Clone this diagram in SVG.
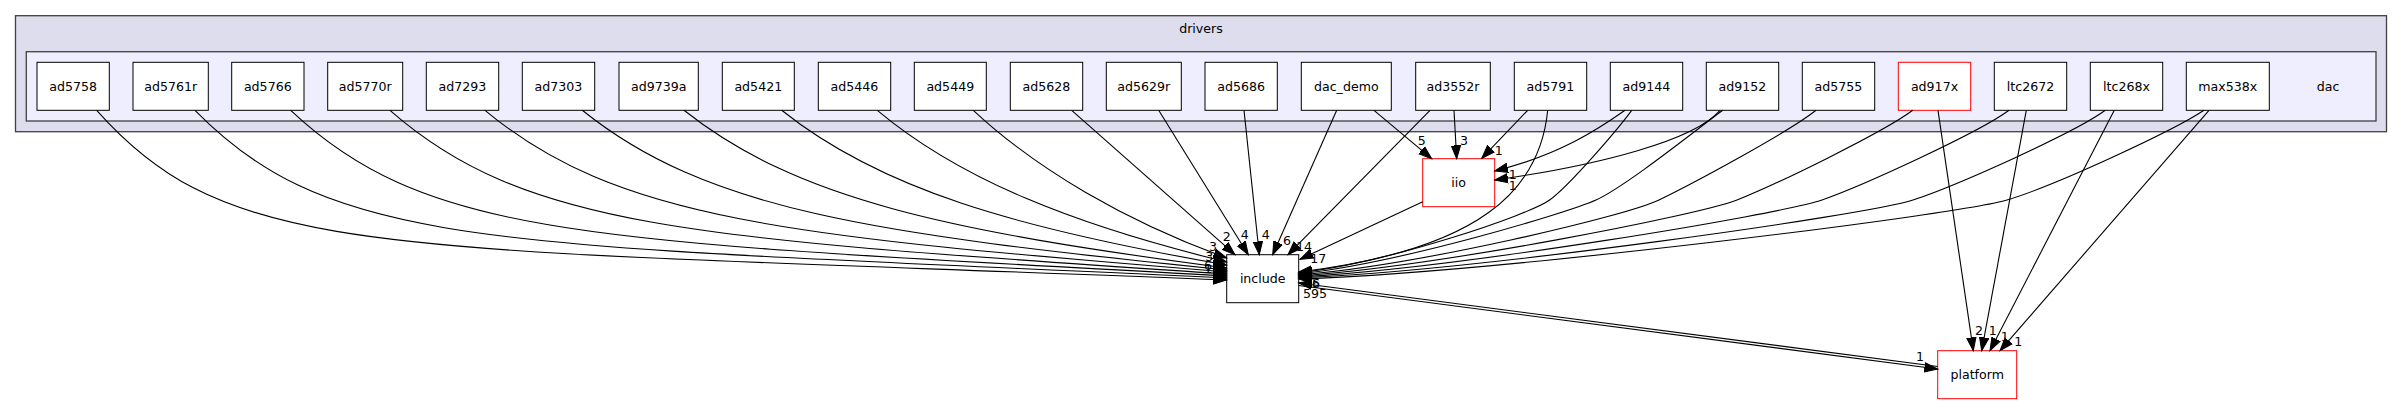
<svg xmlns="http://www.w3.org/2000/svg" width="2403" height="404" viewBox="0 0 2403 404">
<style>
text{font-family:"DejaVu Sans","Liberation Sans",sans-serif;font-size:12.6px;fill:#000;text-anchor:middle}
.outer{fill:#ddddee;stroke:#404040;stroke-width:1.3}
.inner{fill:#eeeeff;stroke:#404040;stroke-width:1.3}
.node rect{fill:#fff;stroke:#000;stroke-width:1}
.node.red rect{stroke:#ff0000}
.edges path{fill:none;stroke:#000;stroke-width:1.1;marker-end:url(#arr)}
</style>
<defs>
<marker id="arr" markerUnits="userSpaceOnUse" markerWidth="16" markerHeight="12" refX="13.3" refY="5" orient="auto" viewBox="0 0 16 10">
<path d="M0,0.3 L13.3,5 L0,9.7 Z" fill="#000" stroke="#000" stroke-width="1"/>
</marker>
</defs>
<rect width="2403" height="404" fill="#fff"/>
<g id="cluster-drivers">
<rect class="outer" x="15.5" y="15.7" width="2371" height="116"/>
<text x="1201" y="32.7">drivers</text>
</g>
<g id="cluster-dac">
<rect class="inner" x="26.3" y="51.7" width="2349.7" height="69.3"/>
<text x="2328" y="91">dac</text>
</g>
<g id="n-ad5758" class="node"><rect x="37" y="62.3" width="72.3" height="48"/><text x="73.2" y="91">ad5758</text></g>
<g id="n-ad5761r" class="node"><rect x="133" y="62.3" width="75.3" height="48"/><text x="170.7" y="91">ad5761r</text></g>
<g id="n-ad5766" class="node"><rect x="231.7" y="62.3" width="72.3" height="48"/><text x="267.8" y="91">ad5766</text></g>
<g id="n-ad5770r" class="node"><rect x="327.7" y="62.3" width="75" height="48"/><text x="365.2" y="91">ad5770r</text></g>
<g id="n-ad7293" class="node"><rect x="426.3" y="62.3" width="72.4" height="48"/><text x="462.5" y="91">ad7293</text></g>
<g id="n-ad7303" class="node"><rect x="522.3" y="62.3" width="72.4" height="48"/><text x="558.5" y="91">ad7303</text></g>
<g id="n-ad9739a" class="node"><rect x="619" y="62.3" width="79.3" height="48"/><text x="658.7" y="91">ad9739a</text></g>
<g id="n-ad5421" class="node"><rect x="722.3" y="62.3" width="72" height="48"/><text x="758.3" y="91">ad5421</text></g>
<g id="n-ad5446" class="node"><rect x="818.3" y="62.3" width="72.4" height="48"/><text x="854.5" y="91">ad5446</text></g>
<g id="n-ad5449" class="node"><rect x="914.3" y="62.3" width="72" height="48"/><text x="950.3" y="91">ad5449</text></g>
<g id="n-ad5628" class="node"><rect x="1010.3" y="62.3" width="72.4" height="48"/><text x="1046.5" y="91">ad5628</text></g>
<g id="n-ad5629r" class="node"><rect x="1106.3" y="62.3" width="75" height="48"/><text x="1143.8" y="91">ad5629r</text></g>
<g id="n-ad5686" class="node"><rect x="1205" y="62.3" width="72.3" height="48"/><text x="1241.2" y="91">ad5686</text></g>
<g id="n-dac_demo" class="node"><rect x="1301.3" y="62.3" width="90" height="48"/><text x="1346.3" y="91">dac_demo</text></g>
<g id="n-ad3552r" class="node"><rect x="1415.7" y="62.3" width="74.6" height="48"/><text x="1453" y="91">ad3552r</text></g>
<g id="n-ad5791" class="node"><rect x="1514.3" y="62.3" width="72.4" height="48"/><text x="1550.5" y="91">ad5791</text></g>
<g id="n-ad9144" class="node"><rect x="1610.3" y="62.3" width="72.4" height="48"/><text x="1646.5" y="91">ad9144</text></g>
<g id="n-ad9152" class="node"><rect x="1706.3" y="62.3" width="72.4" height="48"/><text x="1742.5" y="91">ad9152</text></g>
<g id="n-ad5755" class="node"><rect x="1802.3" y="62.3" width="72.4" height="48"/><text x="1838.5" y="91">ad5755</text></g>
<g id="n-ad917x" class="node red"><rect x="1898.3" y="62.3" width="72.4" height="48"/><text x="1934.5" y="91">ad917x</text></g>
<g id="n-ltc2672" class="node"><rect x="1994.3" y="62.3" width="72.4" height="48"/><text x="2030.5" y="91">ltc2672</text></g>
<g id="n-ltc268x" class="node"><rect x="2090.3" y="62.3" width="72.4" height="48"/><text x="2126.5" y="91">ltc268x</text></g>
<g id="n-max538x" class="node"><rect x="2186.3" y="62.3" width="83" height="48"/><text x="2227.8" y="91">max538x</text></g>
<g id="n-iio" class="node red"><rect x="1422.7" y="158.7" width="72" height="48"/><text x="1458.7" y="187.4">iio</text></g>
<g id="n-include" class="node"><rect x="1226.7" y="254.7" width="72" height="48"/><text x="1262.7" y="283.4">include</text></g>
<g id="n-platform" class="node red"><rect x="1937.7" y="350.7" width="79" height="48"/><text x="1977.2" y="379.4">platform</text></g>
<g id="edges" class="edges">
<path d="M96.7,110.3 C232.3,263 379.2,246.1 1226.7,280"/>
<path d="M195,110.3 C333.9,251.8 493.4,243.5 1226.7,278"/>
<path d="M290.7,110.3 C429.9,241.1 597.1,241 1226.7,276"/>
<path d="M390,110.3 C526.9,230.2 697.3,238.5 1226.7,274"/>
<path d="M485,110.3 C616.7,220 785.4,236.1 1226.7,272"/>
<path d="M582.3,110.3 C706,209.8 868.3,233.6 1226.7,270"/>
<path d="M684,110.3 C796.4,199.4 946.9,231.2 1226.7,268"/>
<path d="M781.7,110.3 C880.3,189.1 1014.6,228 1226.7,265"/>
<path d="M877.3,110.3 C959.7,179.3 1073.5,224.9 1226.7,262"/>
<path d="M973.3,110.3 C1036.7,169.4 1125.3,221.1 1226.7,258"/>
<path d="M1071.7,110.3 L1235,254.7"/>
<path d="M1158.7,110.3 L1248.3,254.7"/>
<path d="M1244,110.3 L1259.3,254.7"/>
<path d="M1336.7,110.3 L1272.7,254.7"/>
<path d="M1430,110.3 L1288,254.7"/>
<path d="M1374,110.3 L1431.7,158.7"/>
<path d="M1454,110.3 L1456.7,158.7"/>
<path d="M1527.7,110.3 L1481.7,158.3"/>
<path d="M1625,110.3 C1600,128 1560,155 1494.7,171"/>
<path d="M1720,110.3 C1695,140 1600,165 1494.7,180"/>
<path d="M1422.7,201.7 L1300,259.3"/>
<path d="M1547.7,110.3 C1540,190 1480,250 1298.7,272"/>
<path d="M1631.7,110.3 C1618,129 1570,185 1549.6,200 S1390,262 1298.7,273"/>
<path d="M1722.7,110.3 C1696,130 1625,187 1596,200 S1400,263 1298.7,274"/>
<path d="M1816,110.3 C1788,132.6 1692,184 1659,200 S1420,265 1298.7,275"/>
<path d="M1912.7,110.3 C1883,132.6 1775,185 1737,200 S1440,266 1298.7,276"/>
<path d="M2009,110.3 C1979,132.6 1862,186 1822,200 S1460,268 1298.7,277"/>
<path d="M2105.3,110.3 C2075,132.6 1958,185 1913,200 S1480,270 1298.7,278"/>
<path d="M2204,110.3 C2174,130.3 2057,185 2007,200 S1500,272 1298.7,279"/>
<path d="M1938,110.3 L1973.3,350.7"/>
<path d="M2026.3,110.3 L1981.7,350.7"/>
<path d="M2114.3,110.3 L1990,350.7"/>
<path d="M2209,110.3 L2000,350.7"/>
<path d="M1298.7,285.5 L1937.7,369"/>
<path d="M1937.7,366.5 L1298.7,283"/>
</g>
<g id="edge-labels">
<text x="1421.7" y="144.5">5</text>
<text x="1464" y="144.5">3</text>
<text x="1498.7" y="155">1</text>
<text x="1512.7" y="178.8">1</text>
<text x="1512.7" y="190">1</text>
<text x="1226.7" y="240.5">2</text>
<text x="1244.7" y="238.8">4</text>
<text x="1265.7" y="238.8">4</text>
<text x="1287" y="245.2">6</text>
<text x="1304" y="251.2">14</text>
<text x="1318.3" y="263.2">17</text>
<text x="1213" y="250.5">3</text>
<text x="1209.3" y="261">3</text>
<text x="1208" y="270">6</text>
<text x="1208" y="273">1</text>
<text x="1316" y="286.5">5</text>
<text x="1316" y="287.5">6</text>
<text x="1315" y="297.8">595</text>
<text x="1920" y="361.2">1</text>
<text x="1979" y="335.2">2</text>
<text x="1992.7" y="335.2">1</text>
<text x="2004.7" y="341.2">1</text>
<text x="2018.3" y="346.2">1</text>
</g>
</svg>
